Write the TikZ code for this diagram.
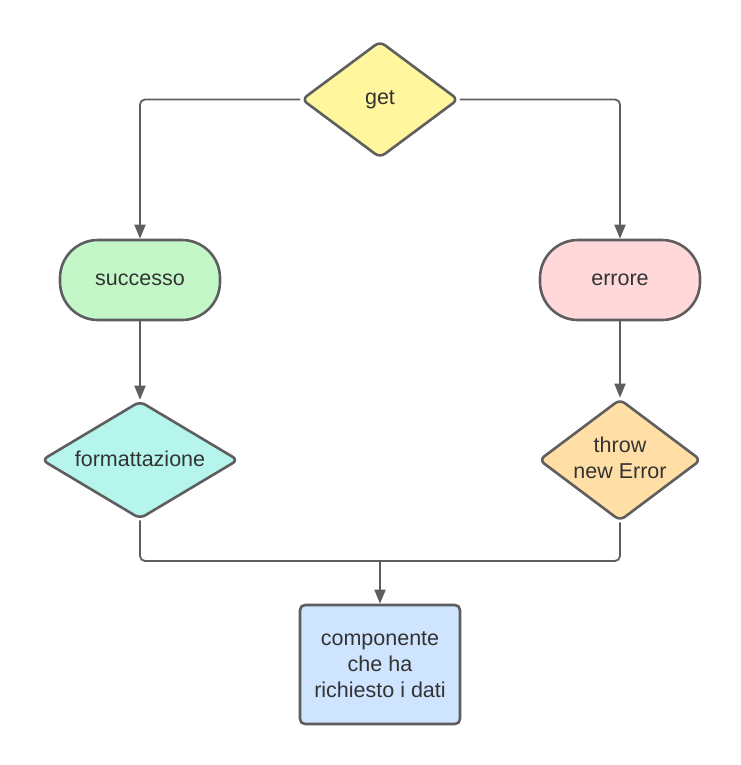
\documentclass[tikz,border=0pt]{standalone}
\usepackage{fontspec}
\setmainfont{Liberation Sans}
\usetikzlibrary{shapes.geometric,arrows.meta}
\definecolor{edge}{HTML}{5E5E5E}
\definecolor{txt}{HTML}{333333}
\definecolor{cget}{HTML}{FFF69E}
\definecolor{cok}{HTML}{C3F7C8}
\definecolor{cerr}{HTML}{FFD8DA}
\definecolor{cfmt}{HTML}{B6F5EC}
\definecolor{cthr}{HTML}{FFDFA6}
\definecolor{ccomp}{HTML}{CFE4FF}
\tikzset{
  base/.style={draw=edge, line width=2.6pt, text=txt, font=\fontsize{21.5}{26}\selectfont, align=center, inner sep=0pt},
  dec/.style={base, diamond, rounded corners=6pt},
  pill/.style={base, rectangle, rounded corners=38pt, minimum width=160pt, minimum height=80pt},
  box/.style={base, rectangle, rounded corners=5pt, minimum width=160pt, minimum height=119pt},
  conn/.style={draw=edge, line width=1.8pt, rounded corners=5pt},
  arr/.style={conn, -{Triangle[length=14pt,width=11pt]}}
}
\begin{document}
\begin{tikzpicture}[x=1pt,y=-1pt]
\useasboundingbox (0,0) rectangle (740,765);
\node[dec, fill=cget, aspect=1.34, minimum width=157pt, minimum height=117pt] (get) at (380,99.5) {get};
\node[pill, fill=cok] (ok) at (140,280) {successo};
\node[pill, fill=cerr] (err) at (620,280) {errore};
\node[dec, fill=cfmt, aspect=1.67, minimum width=197pt, minimum height=118pt] (fmt) at (140,460) {\raisebox{2pt}{formattazione}};
\node[dec, fill=cthr, aspect=1.33, minimum width=157pt, minimum height=118pt] (thr) at (620,460) {\raisebox{6pt}{\begin{tabular}{@{}c@{}}throw\\new Error\end{tabular}}};
\node[box, fill=ccomp] (comp) at (380,664.5) {componente\\che ha\\richiesto i dati};
\coordinate (m) at (380,561);
\draw[arr] (get.west) -| (ok.north);
\draw[arr] (get.east) -| (err.north);
\draw[arr] (ok.south) -- (fmt.north);
\draw[arr] (err.south) -- (thr.north);
\draw[conn] (fmt.south) |- (m);
\draw[conn] (thr.south) |- (m);
\draw[arr] (m) -- (comp.north);
\end{tikzpicture}
\end{document}
